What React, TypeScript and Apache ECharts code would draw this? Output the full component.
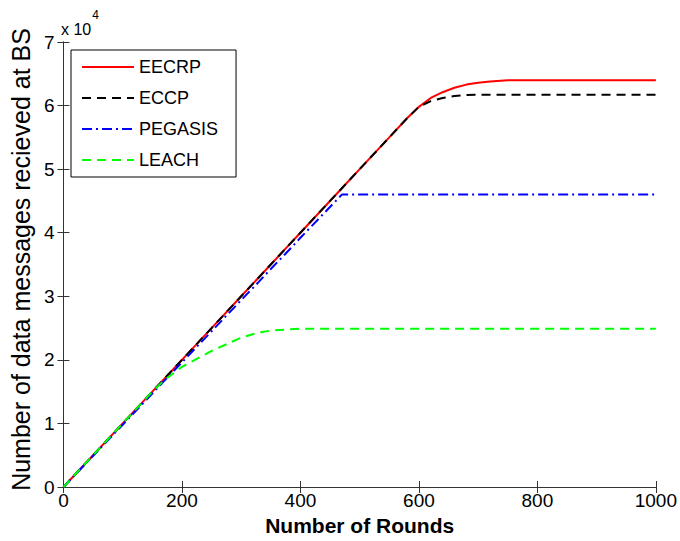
import React, { useEffect, useRef } from "react";
import * as echarts from "echarts";

// Rounds (x) and messages received at BS (in units of 10^4)
const rounds = [0, 100, 150, 170, 200, 250, 300, 330, 350, 380, 400, 470, 500, 550, 580, 600, 620, 640, 660, 680, 700, 720, 750, 800, 900, 1000];
const eecrp = [0, 1.0, 1.5, 1.7, 2.0, 2.5, 3.0, 3.3, 3.5, 3.8, 4.0, 4.7, 5.0, 5.5, 5.8, 5.98, 6.12, 6.21, 6.28, 6.33, 6.36, 6.38, 6.4, 6.4, 6.4, 6.4];
const eccp = [0, 1.0, 1.5, 1.7, 2.0, 2.5, 3.0, 3.3, 3.5, 3.8, 4.0, 4.7, 5.0, 5.5, 5.8, 5.98, 6.07, 6.12, 6.15, 6.165, 6.17, 6.17, 6.17, 6.17, 6.17, 6.17];
const pegasis = [0, 0.98, 1.47, 1.67, 1.96, 2.45, 2.94, 3.23, 3.43, 3.72, 3.92, 4.6, 4.6, 4.6, 4.6, 4.6, 4.6, 4.6, 4.6, 4.6, 4.6, 4.6, 4.6, 4.6, 4.6, 4.6];
const leach = [0, 1.0, 1.5, 1.68, 1.89, 2.14, 2.35, 2.43, 2.46, 2.48, 2.49, 2.49, 2.49, 2.49, 2.49, 2.49, 2.49, 2.49, 2.49, 2.49, 2.49, 2.49, 2.49, 2.49, 2.49, 2.49];

const seriesNames = ["EECRP", "ECCP", "PEGASIS", "LEACH"];
const xTicks = [0, 200, 400, 600, 800, 1000];
const yTicks = [0, 1, 2, 3, 4, 5, 6, 7];

const FONT = "Liberation Sans, Arial, Helvetica, sans-serif";

export default function App() {
  const ref = useRef<HTMLDivElement>(null);
  useEffect(() => {
    if (!ref.current) return;
    const chart = echarts.init(ref.current, undefined, { renderer: "svg" });
    const pairs = (ys: number[]) => rounds.map((x, i) => [x, ys[i]]);
    const axisLine = { show: true, lineStyle: { color: "#333", width: 1 } };
    const xBase = {
      type: "value" as const,
      min: xTicks[0],
      max: xTicks[xTicks.length - 1],
      interval: 200,
      splitLine: { show: false },
      axisLine,
      axisTick: { show: true, inside: true, length: 6, lineStyle: { color: "#333" } },
    };
    const yBase = {
      type: "value" as const,
      min: yTicks[0],
      max: yTicks[yTicks.length - 1],
      interval: 1,
      splitLine: { show: false },
      axisLine,
      axisTick: { show: true, inside: true, length: 6, lineStyle: { color: "#333" } },
    };
    const mk = (name: string, data: number[], color: string, type: any) => ({
      name,
      type: "line",
      data: pairs(data),
      symbol: "none",
      showSymbol: false,
      lineStyle: { color, width: 2, type },
      itemStyle: { color },
    });
    chart.setOption({
      animation: false,
      backgroundColor: "#fff",
      grid: { left: 62, right: 23, top: 42, bottom: 53 },
      title: {
        text: "{a|x 10}{b|4}",
        left: 61,
        top: 9,
        padding: 0,
        textStyle: {
          fontWeight: "normal",
          rich: {
            a: { fontFamily: FONT, fontSize: 16, fontWeight: "normal", color: "#000", lineHeight: 28, verticalAlign: "bottom" },
            b: { fontFamily: FONT, fontSize: 12, fontWeight: "normal", color: "#000", lineHeight: 28, verticalAlign: "top", padding: [0, 0, 0, 1] },
          },
        },
      },
      xAxis: [
        {
          ...xBase,
          position: "bottom",
          name: "Number of Rounds",
          nameLocation: "middle",
          nameGap: 28,
          nameTextStyle: { fontFamily: FONT, fontSize: 21, fontWeight: "bold", color: "#000" },
          axisLabel: { fontFamily: FONT, fontSize: 19, color: "#000", margin: 4, formatter: (v: number) => String(v) },
        },
        { ...xBase, position: "top", axisLabel: { show: false } },
      ],
      yAxis: [
        {
          ...yBase,
          position: "left",
          name: "Number of data messages recieved at BS",
          nameLocation: "middle",
          nameGap: 27,
          nameTextStyle: { fontFamily: FONT, fontSize: 25, color: "#000", padding: [0, 0, 0, 10] },
          axisLabel: { fontFamily: FONT, fontSize: 19, color: "#000", margin: 9 },
        },
        { ...yBase, position: "right", axisLabel: { show: false } },
      ],
      legend: {
        data: seriesNames,
        orient: "vertical",
        left: 71,
        top: 50,
        padding: [8, 18, 8, 10],
        itemWidth: 52,
        itemHeight: 14,
        itemGap: 13,
        borderColor: "#000",
        borderWidth: 1,
        backgroundColor: "#fff",
        itemStyle: { opacity: 0 },
        textStyle: { fontFamily: FONT, fontSize: 18, color: "#000", lineHeight: 18 },
      },
      series: [
        mk(seriesNames[0], eecrp, "#ff0000", "solid"),
        mk(seriesNames[1], eccp, "#000000", [9, 6]),
        mk(seriesNames[2], pegasis, "#0000ff", [10, 4, 2, 4]),
        mk(seriesNames[3], leach, "#00ff00", [9, 6]),
      ],
    });
    return () => chart.dispose();
  }, []);
  return (
    <div
      ref={ref}
      style={{ position: "fixed", left: 0, top: 0, width: 680, height: 541, background: "#fff" }}
    />
  );
}
